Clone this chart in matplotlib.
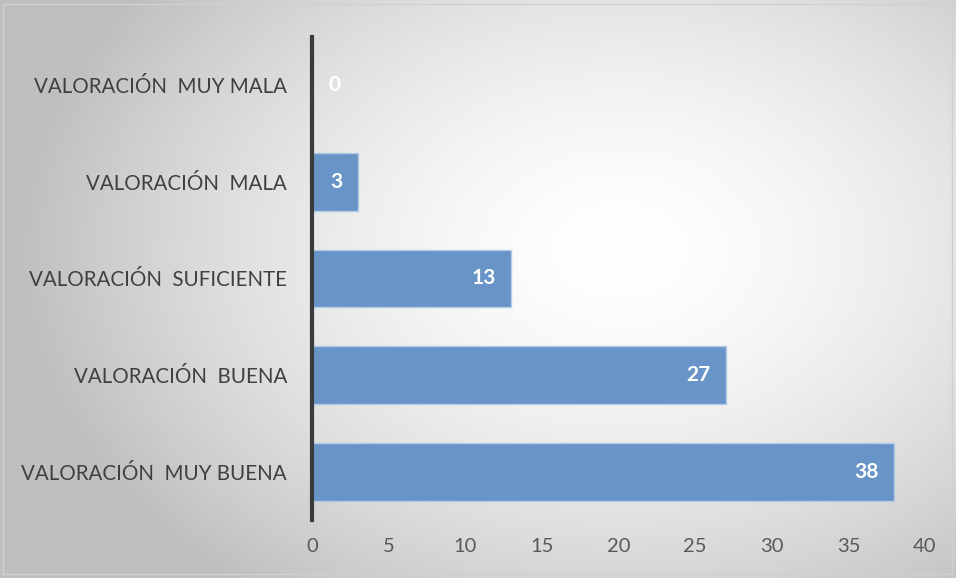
import numpy as np
import matplotlib
matplotlib.use("Agg")
import matplotlib.pyplot as plt
from matplotlib.patches import Rectangle

categories = ["VALORACIÓN  MUY BUENA", "VALORACIÓN  BUENA", "VALORACIÓN  SUFICIENTE",
              "VALORACIÓN  MALA", "VALORACIÓN  MUY MALA"]
values = [38, 27, 13, 3, 0]
xticks = [0, 5, 10, 15, 20, 25, 30, 35, 40]

plt.rcParams['font.family'] = ['Lato', 'DejaVu Sans']

W, H = 956, 578
fig = plt.figure(figsize=(W/100, H/100), dpi=100)

# radial gradient background
bg = fig.add_axes([0, 0, 1, 1], zorder=-10)
yy, xx = np.mgrid[0:H, 0:W]
cx, cy = 620, 250
d = np.sqrt(((xx - cx) / 600.0) ** 2 + ((yy - cy) / 430.0) ** 2)
t = np.clip(d, 0, 1) ** 1.6
v = 1.0 - 0.25 * t
img = np.dstack([v, v, v])
bg.imshow(img, extent=[0, W, H, 0], aspect='auto', interpolation='bilinear')
bg.set_xlim(0, W); bg.set_ylim(H, 0)
bg.axis('off')
bg.add_patch(Rectangle((3, 4), W - 7, H - 8, fill=False, edgecolor='#d0d0d0', lw=1))

ax = fig.add_axes([312/W, 1 - 520/H, (925-312)/W, (520-37)/H])
ax.patch.set_alpha(0)
y = np.arange(len(categories))
ax.barh(y, values, height=0.6, color='#6894c8', edgecolor='#b4cbe6', linewidth=1, zorder=2)
ax.set_xlim(0, 40)
ax.set_ylim(-0.5, 4.5)
ax.set_xticks(xticks)
ax.set_xticklabels([str(x) for x in xticks], fontsize=14.5, color='#595959')
ax.set_yticks(y)
ax.set_yticklabels(categories, fontsize=14.8, color='#404040')
ax.tick_params(axis='both', length=0)
ax.tick_params(axis='x', pad=13)
ax.tick_params(axis='y', pad=18)
for s in ['top', 'right', 'bottom']:
    ax.spines[s].set_visible(False)
ax.spines['left'].set_color('#3a3a3a')
ax.spines['left'].set_linewidth(3)
ax.spines['left'].set_zorder(3)

for yi, v_ in zip(y, values):
    if v_ > 0:
        ax.annotate(str(v_), xy=(v_, yi), xytext=(-11, 0), textcoords='offset points',
                    ha='right', va='center', color='white', fontsize=15, fontweight='bold', zorder=4)
    else:
        ax.annotate(str(v_), xy=(0, yi), xytext=(16, 0), textcoords='offset points',
                    ha='center', va='center', color='white', fontsize=15, fontweight='bold', zorder=4)

fig.savefig("out.png", dpi=100)
